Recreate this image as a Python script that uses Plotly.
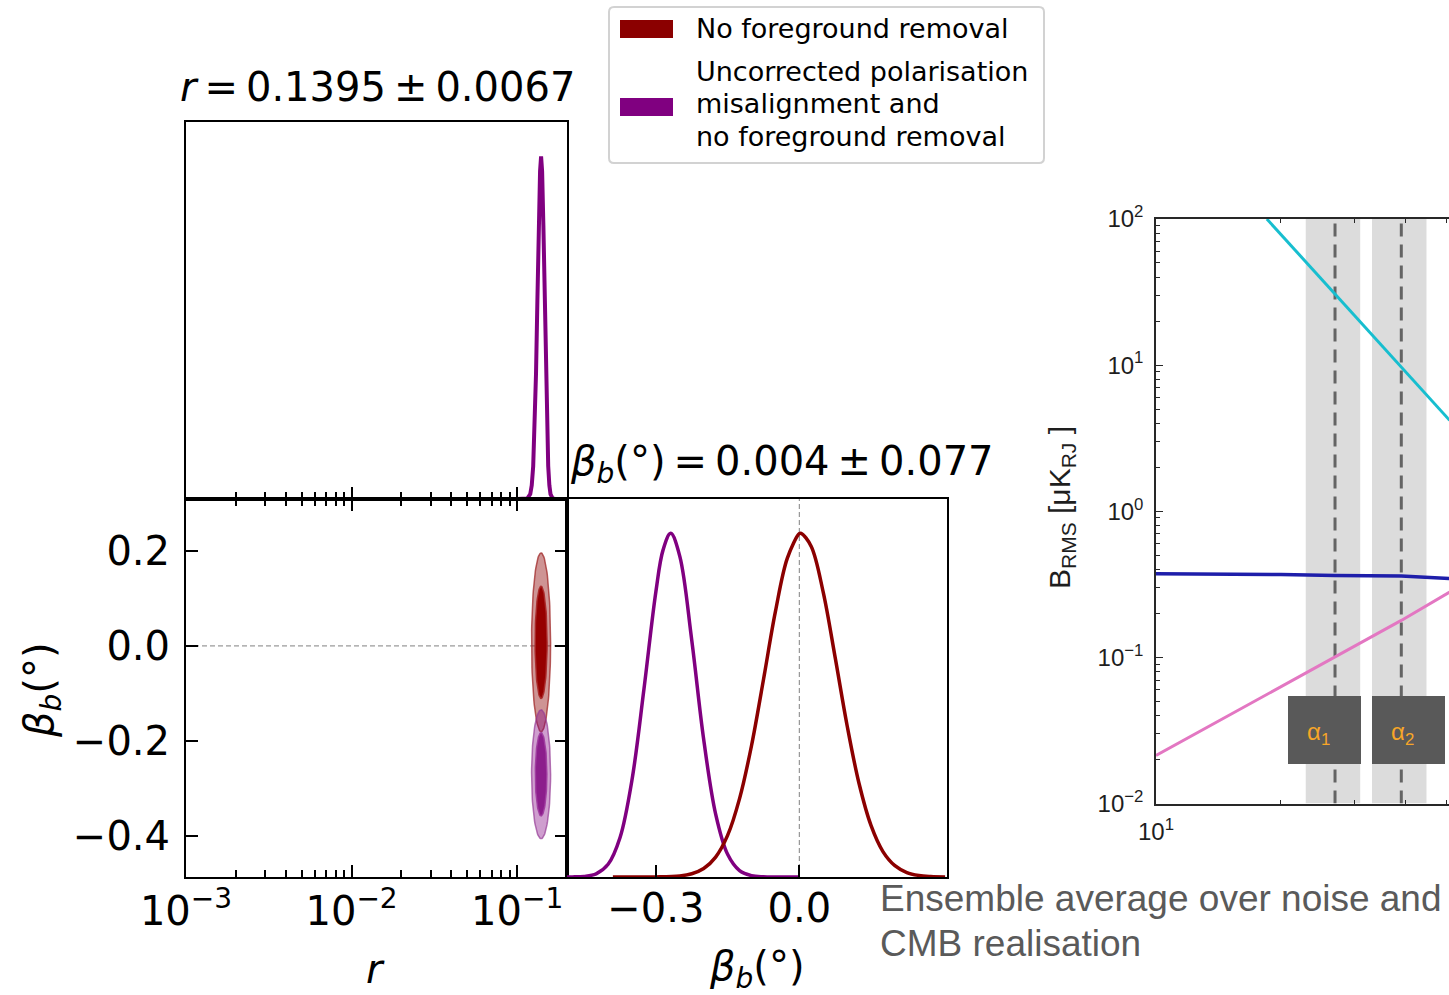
import numpy as np
import plotly.graph_objects as go

W, H = 1449, 995
def px(x): return x / W
def py(y): return 1 - y / H

# ---------------- data ----------------
# 1D marginal of r (purple chain), peak-normalised
r_vals = [0.100, 0.110, 0.115, 0.120, 0.1225, 0.125, 0.1275, 0.130, 0.1325, 0.135, 0.1375, 0.1395,
          0.1415, 0.144, 0.1465, 0.149, 0.1515, 0.154, 0.1565, 0.159, 0.164, 0.170, 0.200]
r_pdf = [0.0, 0.0001, 0.0012, 0.0144, 0.040, 0.096, 0.201, 0.366, 0.579, 0.798, 0.956, 1.0,
         0.956, 0.798, 0.579, 0.366, 0.201, 0.096, 0.040, 0.0144, 0.0012, 0.0, 0.0]

# 1D marginal of beta_b
beta_red = [-0.39, -0.35, -0.30, -0.25, -0.225, -0.20, -0.175, -0.15, -0.125, -0.10, -0.075, -0.05,
            -0.025, 0.0, 0.004, 0.025, 0.05, 0.075, 0.10, 0.125, 0.15, 0.175, 0.20, 0.225, 0.25, 0.275, 0.305]
pdf_red = [0.0, 0.0, 0.0003, 0.0032, 0.0095, 0.0247, 0.058, 0.121, 0.228, 0.382, 0.574, 0.772,
           0.928, 0.999, 1.0, 0.962, 0.829, 0.639, 0.441, 0.272, 0.150, 0.074, 0.033, 0.013, 0.0046, 0.0015, 0.0003]
beta_purple = [-0.486, -0.475, -0.45, -0.425, -0.40, -0.375, -0.35, -0.325, -0.30, -0.285, -0.269,
               -0.25, -0.225, -0.20, -0.175, -0.15, -0.125, -0.10, -0.075, -0.05, 0.0]
pdf_purple = [0.0001, 0.0003, 0.0018, 0.0093, 0.037, 0.115, 0.283, 0.547, 0.831, 0.952, 1.0,
              0.933, 0.689, 0.400, 0.183, 0.066, 0.0186, 0.0041, 0.0007, 0.0001, 0.0]

# 2D contours (68% / 95%) : centre and half extents (log10 r decades, beta)
cont_logr_c = [-0.8555, -0.8555]          # red, purple
cont_beta_c = [0.0075, -0.27]
outer_half_logr = [0.0574, 0.0574]
outer_half_beta = [0.188, 0.1355]
inner_half_logr = [0.0363, 0.035]
inner_half_beta = [0.118, 0.0875]

# right panel: B_RMS vs frequency
freq_sync = [18.5, 27.0, 39.0, 51.0]
sync_rms = [100.0, 30.6, 9.8, 4.19]
freq_cmb = [10, 15, 20, 27, 39, 51]
cmb_rms = [0.374, 0.372, 0.369, 0.364, 0.360, 0.346]
freq_dust = [10, 27, 39, 51]
dust_rms = [0.0213, 0.100, 0.179, 0.28]
band_centre = [27, 39]
band_lo = [22.95, 33.15]
band_hi = [31.05, 44.85]
band_labels = ["α<sub>1</sub>", "α<sub>2</sub>"]

RED = "#8b0000"
PURPLE = "#800080"
FONT = "DejaVu Sans"
AFONT = "Liberation Sans"

fig = go.Figure()

# ---- top-left: r marginal ----
fig.add_trace(go.Scatter(x=r_vals, y=r_pdf, mode="lines", line=dict(color=PURPLE, width=4),
                         xaxis="x", yaxis="y", showlegend=False, hoverinfo="skip"))

# ---- 2D panel ----
fig.add_trace(go.Scatter(x=[0.001, 0.2], y=[0, 0], mode="lines",
                         line=dict(color="gray", width=1, dash="5px,3px"),
                         xaxis="x2", yaxis="y2", showlegend=False, hoverinfo="skip"))
t = np.linspace(0, 2 * np.pi, 120)
styles = [
    (("rgba(139,0,0,0.42)", "rgba(160,40,40,0.75)"), ("rgb(150,0,0)", "rgba(170,40,40,0.9)")),
    (("rgba(128,0,128,0.38)", "rgba(150,60,150,0.7)"), ("rgb(140,30,140)", "rgba(160,60,160,0.9)")),
]
for i in range(2):
    for (hl, hb), (fc, lc) in zip([(outer_half_logr[i], outer_half_beta[i]),
                                   (inner_half_logr[i], inner_half_beta[i])], styles[i]):
        xs = 10 ** (cont_logr_c[i] + hl * np.cos(t))
        ys = cont_beta_c[i] + hb * np.sin(t)
        fig.add_trace(go.Scatter(x=xs, y=ys, mode="lines", fill="toself", fillcolor=fc,
                                 line=dict(color=lc, width=1.5), xaxis="x2", yaxis="y2",
                                 showlegend=False, hoverinfo="skip"))

# ---- beta marginal ----
fig.add_trace(go.Scatter(x=[0, 0], y=[0, 1.1], mode="lines",
                         line=dict(color="gray", width=1, dash="5px,3px"),
                         xaxis="x3", yaxis="y3", showlegend=False, hoverinfo="skip"))
fig.add_trace(go.Scatter(x=beta_purple, y=pdf_purple, mode="lines", line=dict(color=PURPLE, width=3.5, shape="spline"),
                         xaxis="x3", yaxis="y3", showlegend=False, hoverinfo="skip"))
fig.add_trace(go.Scatter(x=beta_red, y=pdf_red, mode="lines", line=dict(color=RED, width=3.5, shape="spline"),
                         xaxis="x3", yaxis="y3", showlegend=False, hoverinfo="skip"))

# ---- right log-log panel ----
for lo, hi in zip(band_lo, band_hi):
    fig.add_trace(go.Scatter(x=[lo, hi, hi, lo, lo], y=[0.01, 0.01, 100, 100, 0.01], mode="lines",
                             fill="toself", fillcolor="rgb(220,220,220)", line=dict(width=0),
                             xaxis="x4", yaxis="y4", showlegend=False, hoverinfo="skip"))
for c in band_centre:
    fig.add_trace(go.Scatter(x=[c, c], y=[0.01, 100], mode="lines",
                             line=dict(color="rgb(100,100,100)", width=3, dash="13px,8px"),
                             xaxis="x4", yaxis="y4", showlegend=False, hoverinfo="skip"))
fig.add_trace(go.Scatter(x=freq_sync, y=sync_rms, mode="lines", line=dict(color="#17becf", width=3),
                         xaxis="x4", yaxis="y4", showlegend=False, hoverinfo="skip"))
fig.add_trace(go.Scatter(x=freq_cmb, y=cmb_rms, mode="lines", line=dict(color="rgb(30,30,170)", width=3.5),
                         xaxis="x4", yaxis="y4", showlegend=False, hoverinfo="skip"))
fig.add_trace(go.Scatter(x=freq_dust, y=dust_rms, mode="lines", line=dict(color="#e377c2", width=3),
                         xaxis="x4", yaxis="y4", showlegend=False, hoverinfo="skip"))

frame = dict(showline=True, linecolor="black", linewidth=2, showgrid=False, zeroline=False, automargin=False)
minor_log = dict(ticks="inside", ticklen=7, tickwidth=1.5, tickcolor="black", dtick="D1", showgrid=False)
tickfont = dict(family=FONT, size=40, color="black")
MINUS = "\u2212"

xd_top = [px(186), px(567)]
xd_right = [px(567), px(947)]
yd_top = [py(499), py(122)]
yd_bot = [py(877), py(499)]

fig.update_layout(
    template="none",
    width=W, height=H, margin=dict(l=0, r=0, t=0, b=0, pad=0), autosize=False,
    paper_bgcolor="white", plot_bgcolor="rgba(0,0,0,0)", showlegend=False,
    xaxis=dict(domain=xd_top, anchor="y", type="log", range=[-3, np.log10(0.2)],
               tickmode="array", tickvals=[0.001, 0.01, 0.1], ticks="inside", ticklen=12, tickwidth=1.5,
               tickcolor="black", showticklabels=False, minor=minor_log, mirror=True, **frame),
    yaxis=dict(domain=yd_top, anchor="x", range=[0, 1.1], showticklabels=False, ticks="", mirror=True, **frame),
    xaxis2=dict(domain=xd_top, anchor="y2", type="log", range=[-3, np.log10(0.2)],
                tickmode="array", tickvals=[0.001, 0.01, 0.1],
                ticktext=["10<sup>" + MINUS + "3</sup>", "10<sup>" + MINUS + "2</sup>", "10<sup>" + MINUS + "1</sup>"],
                ticks="inside", ticklen=12, tickwidth=1.5, tickcolor="black", tickfont=tickfont,
                minor=minor_log, mirror="ticks", ticklabelstandoff=-2, **frame),
    yaxis2=dict(domain=yd_bot, anchor="x2", range=[-0.486, 0.309], tickmode="array",
                tickvals=[0.2, 0.0, -0.2, -0.4], ticktext=["0.2", "0.0", MINUS + "0.2", MINUS + "0.4"],
                ticks="inside", ticklen=12, tickwidth=1.5, tickcolor="black", tickfont=tickfont,
                mirror="ticks", ticklabelstandoff=6, **frame),
    xaxis3=dict(domain=xd_right, anchor="y3", range=[-0.486, 0.309], tickmode="array",
                tickvals=[-0.3, 0.0], ticktext=[MINUS + "0.3", "0.0"], ticks="inside", ticklen=12,
                tickwidth=1.5, tickcolor="black", tickfont=tickfont, mirror=True, ticklabelstandoff=-5, **frame),
    yaxis3=dict(domain=yd_bot, anchor="x3", range=[0, 1.1], showticklabels=False, ticks="", mirror=True, **frame),
    xaxis4=dict(domain=[px(1156), 1.0], anchor="y4", type="log", range=[1, 1.706],
                tickmode="array", tickvals=[10], ticktext=["10<sup>1</sup>"], ticks="inside", ticklen=7,
                tickwidth=1, tickcolor="rgb(40,40,40)",
                tickfont=dict(family=AFONT, size=24, color="rgb(30,30,30)"),
                minor=dict(ticks="inside", ticklen=4, tickwidth=1, tickcolor="rgb(40,40,40)", dtick="D1"),
                showline=True, linecolor="rgb(40,40,40)", linewidth=1.5, mirror="ticks",
                showgrid=False, zeroline=False, ticklabelstandoff=6, automargin=False),
    yaxis4=dict(domain=[py(803.5), py(219)], anchor="x4", type="log", range=[-2, 2],
                tickmode="array", tickvals=[0.01, 0.1, 1, 10, 100],
                ticktext=["10<sup>" + MINUS + "2</sup>", "10<sup>" + MINUS + "1</sup>", "10<sup>0</sup>",
                          "10<sup>1</sup>", "10<sup>2</sup>"],
                ticks="inside", ticklen=7, tickwidth=1, tickcolor="rgb(40,40,40)",
                tickfont=dict(family=AFONT, size=24, color="rgb(30,30,30)"),
                minor=dict(ticks="inside", ticklen=4, tickwidth=1, tickcolor="rgb(40,40,40)", dtick="D1"),
                showline=True, linecolor="rgb(40,40,40)", linewidth=1.5, mirror=False,
                showgrid=False, zeroline=False, ticklabelstandoff=6, automargin=False),
)

def rounded_rect(x0, y0, x1, y1, r):
    return (f"M {px(x0 + r)},{py(y0)} L {px(x1 - r)},{py(y0)} Q {px(x1)},{py(y0)} {px(x1)},{py(y0 + r)} "
            f"L {px(x1)},{py(y1 - r)} Q {px(x1)},{py(y1)} {px(x1 - r)},{py(y1)} "
            f"L {px(x0 + r)},{py(y1)} Q {px(x0)},{py(y1)} {px(x0)},{py(y1 - r)} "
            f"L {px(x0)},{py(y0 + r)} Q {px(x0)},{py(y0)} {px(x0 + r)},{py(y0)} Z")

shapes = [
    dict(type="path", xref="paper", yref="paper", path=rounded_rect(609, 7, 1044, 163, 5),
         fillcolor="white", line=dict(color="rgb(210,210,210)", width=2)),
    dict(type="rect", xref="paper", yref="paper", x0=px(620), x1=px(673), y0=py(38), y1=py(20),
         fillcolor=RED, line=dict(width=0)),
    dict(type="rect", xref="paper", yref="paper", x0=px(620), x1=px(673), y0=py(116), y1=py(98),
         fillcolor=PURPLE, line=dict(width=0)),
    dict(type="rect", xref="paper", yref="paper", x0=px(1288), x1=px(1361), y0=py(764), y1=py(696),
         fillcolor="rgb(89,89,89)", line=dict(width=0)),
    dict(type="rect", xref="paper", yref="paper", x0=px(1372), x1=px(1445), y0=py(764), y1=py(696),
         fillcolor="rgb(89,89,89)", line=dict(width=0)),
]
fig.update_layout(shapes=shapes)

def ann(text, x, y, size, family=FONT, color="black", xanchor="center", angle=0):
    fig.add_annotation(text=text, x=px(x), y=py(y), xref="paper", yref="paper", showarrow=False,
                       xanchor=xanchor, yanchor="middle", textangle=angle,
                       font=dict(family=family, size=size, color=color))

TS = "\u2009"
BETA = "<i>β</i><sub><i>b</i></sub>(°)"
ann("<i>r</i>" + TS + "=" + TS + "0.1395" + TS + "±" + TS + "0.0067", 377.5, 87, 40)
ann(BETA + TS + "=" + TS + "0.004" + TS + "±" + TS + "0.077", 782, 464, 40)
ann("<i>r</i>", 375, 969, 40)
ann(BETA, 757, 969, 40)
ann(BETA, 42, 690, 40, angle=-90)

# legend text
ann("No foreground removal", 694, 29, 27, xanchor="left")
ann("Uncorrected polarisation", 694, 71, 27, xanchor="left")
ann("misalignment and", 694, 104, 27, xanchor="left")
ann("no foreground removal", 694, 136, 27, xanchor="left")

# right panel extras
ann("B<sub>RMS</sub> [μK<sub>RJ</sub> ]", 1062, 508, 30, family=AFONT, color="rgb(30,30,30)", angle=-90)
ann(band_labels[0], 1318, 733, 24, family=AFONT, color="rgb(247,166,40)")
ann(band_labels[1], 1402, 733, 24, family=AFONT, color="rgb(247,166,40)")
ann("Ensemble average over noise and", 878, 898, 37, family=AFONT, color="rgb(90,90,90)", xanchor="left")
ann("CMB realisation", 878, 943, 37, family=AFONT, color="rgb(90,90,90)", xanchor="left")

fig.write_html("out.html")
